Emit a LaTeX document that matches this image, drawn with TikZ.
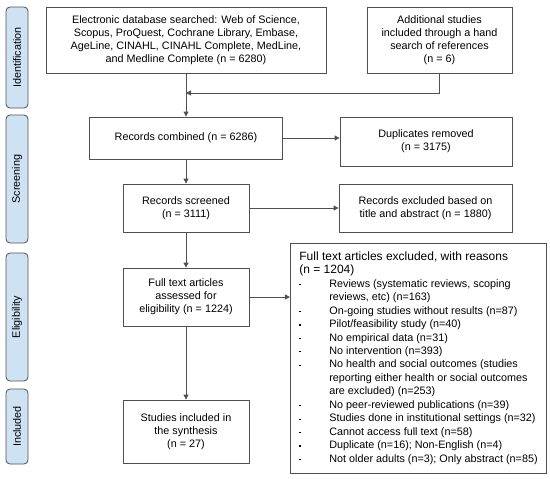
\documentclass[tikz,border=0pt]{standalone}
\usepackage{fontspec}
\setmainfont{Liberation Sans}
\usetikzlibrary{arrows.meta}
\definecolor{stageblue}{HTML}{CFE2F3}
\definecolor{linegray}{HTML}{505050}
\newcommand*{\dotmark}{\makebox[30pt][l]{\raisebox{2pt}{\rule{1.3pt}{1.3pt}}}}
\newcommand*{\hang}{\hspace*{30pt}}

\begin{document}
\begin{tikzpicture}[x=1pt,y=-1pt,
    font=\fontsize{10.8}{13}\selectfont,
    box/.style={draw=linegray,line width=0.8pt,align=center,inner sep=0pt},
    stage/.style={draw=linegray,fill=stageblue,line width=0.8pt,rounded corners=4pt,
      minimum width=22pt,inner sep=0pt},
    flow/.style={draw=linegray,line width=0.8pt,-{Triangle[length=5pt,width=5pt]}}]
    \useasboundingbox (0,0) rectangle (550,479);
    % stage labels on the left
    \node[stage,minimum height=101pt] (ident) at (17,57.5) {};
    \node[rotate=90] at (ident.center) {Identification};
    \node[stage,minimum height=128pt] (screen) at (17,179) {};
    \node[rotate=90] at (screen.center) {Screening};
    \node[stage,minimum height=128pt] (elig) at (17,317) {};
    \node[rotate=90] at (elig.center) {Eligibility};
    \node[stage,minimum height=75pt] (incl) at (17,426.5) {};
    \node[rotate=90] at (incl.center) {Included};
    % main flow
    \node[box,minimum width=280pt,minimum height=66pt] (db) at (186,40)
      {Electronic database searched: Web of Science,\\ Scopus, ProQuest, Cochrane Library, Embase,\\
       AgeLine, CINAHL, CINAHL Complete, MedLine,\\ and Medline Complete (n = 6280)};
    \node[box,minimum width=145pt,minimum height=66pt] (hand) at (439.5,40)
      {Additional studies\\ included through a hand\\ search of references\\ (n = 6)};
    \node[box,minimum width=193pt,minimum height=42pt] (comb) at (186,138)
      {Records combined (n = 6286)};
    \node[box,minimum width=172pt,minimum height=49pt] (dup) at (426,141.5)
      {Duplicates removed\\ (n = 3175)};
    \node[box,minimum width=126pt,minimum height=48pt] (scr) at (186,208)
      {Records screened\\ (n = 3111)};
    \node[box,minimum width=173pt,minimum height=48pt] (exc) at (425.5,208)
      {Records excluded based on\\ title and abstract (n = 1880)};
    \node[box,minimum width=126pt,minimum height=58pt] (full) at (186,297)
      {Full text articles\\ assessed for\\ eligibility (n = 1224)};
    \node[box,minimum width=126pt,minimum height=63pt] (syn) at (186,431.5)
      {Studies included in\\ the synthesis\\ (n = 27)};
    \node[box,align=left,inner xsep=9pt,minimum height=230pt,
      font=\fontsize{10.8}{13.47}\selectfont] (reasons) at (418.5,358) {%
      {\fontsize{12}{14}\selectfont\makebox[233pt][l]{Full text articles excluded, with reasons}}\\
      {\fontsize{12}{14}\selectfont (n = 1204)}\\
      \dotmark Reviews (systematic reviews, scoping\\
      \hang reviews, etc) (n=163)\\
      \dotmark On-going studies without results (n=87)\\
      \dotmark Pilot/feasibility study (n=40)\\
      \dotmark No empirical data (n=31)\\
      \dotmark No intervention (n=393)\\
      \dotmark No health and social outcomes (studies\\
      \hang reporting either health or social outcomes\\
      \hang are excluded) (n=253)\\
      \dotmark No peer-reviewed publications (n=39)\\
      \dotmark Studies done in institutional settings (n=32)\\
      \dotmark Cannot access full text (n=58)\\
      \dotmark Duplicate (n=16); Non-English (n=4)\\
      \dotmark Not older adults (n=3); Only abstract (n=85)};
    \coordinate (join) at (db.south |- 0,93);
    \draw[flow] (db) -- (comb);
    \draw[flow] (hand) |- (join);
    \draw[flow] (comb) -- (comb -| dup.west);
    \draw[flow] (comb) -- (scr);
    \draw[flow] (scr) -- (exc);
    \draw[flow] (scr) -- (full);
    \draw[flow] (full) -- (full -| reasons.west);
    \draw[flow] (full) -- (syn);
\end{tikzpicture}
\end{document}
